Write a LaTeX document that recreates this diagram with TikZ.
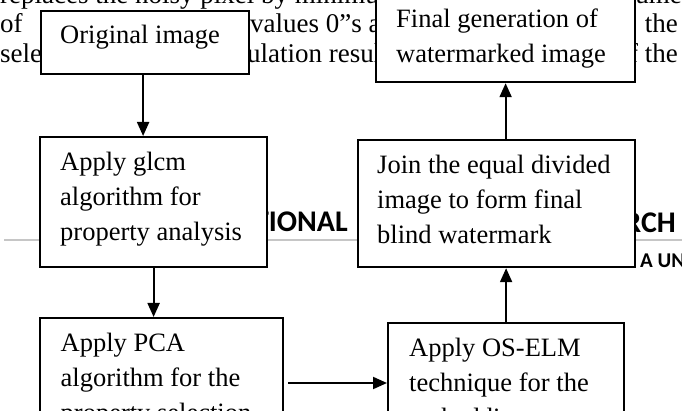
\documentclass[tikz,border=0pt]{standalone}
\usepackage{fontspec}
\setmainfont{Liberation Serif}
\newfontfamily\carlito{Carlito}
\usetikzlibrary{arrows.meta,calc}
\begin{document}
\begin{tikzpicture}[x=1pt,y=-1pt,
  box/.style={draw=black, fill=white, line width=2.2pt, inner sep=0pt, anchor=north west},
  txt/.style={inner sep=0pt, align=left, anchor=north west, font=\fontsize{26.5}{35}\selectfont},
  bgtxt/.style={inner sep=0pt, font=\fontsize{27}{32}\selectfont},
  head/.style={inner sep=0pt, font=\carlito\bfseries\fontsize{30}{34}\selectfont},
  sub/.style={inner sep=0pt, font=\carlito\bfseries\fontsize{21}{25}\selectfont},
  arr/.style={line width=2pt, -{Triangle[length=14pt,width=12pt]}}]
\useasboundingbox (0,0) rectangle (682,411);
\clip (0,0) rectangle (682,411);
\fill[white] (0,0) rectangle (682,411);
% background page text
\node[bgtxt, anchor=base west] (l1a) at (0,4) {replaces the noisy pixel by minimum};
\node[bgtxt, anchor=base east] (l1b) at (682,4) {ume};
\node[bgtxt, anchor=base west] (l2a) at (0,32.5) {of};
\node[bgtxt, anchor=base west] (l2b) at (250,32.5) {values 0”s and};
\node[bgtxt, anchor=base east] (l2c) at (678,32.5) {the};
\node[bgtxt, anchor=base west] (l3a) at (0,63) {selection};
\node[bgtxt, anchor=base west] (l3b) at (247,63) {ulation result};
\node[bgtxt, anchor=base east] (l3c) at (678,63) {of the};
\node[head, anchor=base east] (h1) at (348,232) {INTERNATIONAL};
\node[head, anchor=base east] (h2) at (676,233) {RESEARCH};
\node[sub, anchor=base west] (h3) at (640,268) {A UNIVERSITY};
\draw[gray!45, line width=1.5pt] (4,240) -- (682,240);
% boxes
\node[box, minimum width=208, minimum height=63] (b1) at (40,10) {};
\node[box, minimum width=259, minimum height=88] (b6) at (375,-7) {};
\node[box, minimum width=227, minimum height=130] (b2) at (39,136) {};
\node[box, minimum width=277, minimum height=127] (b5) at (357,139) {};
\node[box, minimum width=243, minimum height=150] (b3) at (39,317) {};
\node[box, minimum width=236, minimum height=150] (b4) at (387,322) {};
% texts
\node[txt] (t1) at ($(b1.north west)+(20,9)$) {\rule{0pt}{24pt}Original image};
\node[txt] (t6) at ($(b6.north west)+(21,10)$) {\rule{0pt}{24pt}Final generation of\\watermarked image};
\node[txt] (t2) at ($(b2.north west)+(21,10)$) {\rule{0pt}{24pt}Apply glcm\\algorithm for\\property analysis};
\node[txt] (t5) at ($(b5.north west)+(20,10)$) {\rule{0pt}{24pt}Join the equal divided\\image to form final\\blind watermark};
\node[txt] (t3) at ($(b3.north west)+(21.5,10)$) {\rule{0pt}{24pt}Apply PCA\\algorithm for the\\property selection};
\node[txt] (t4) at ($(b4.north west)+(22,10)$) {\rule{0pt}{24pt}Apply OS-ELM\\technique for the\\embedding};
% connectors
\coordinate (hy) at (0,383);
\draw[arr] ($(b1.south)+(-2,0)$) -- ($(b1.south |- b2.north)+(-2,0)$);
\draw[arr] (b2.south) -- (b2.south |- b3.north);
\draw[arr] ($(b3.east |- hy)+(4,0)$) -- (b4.west |- hy);
\draw[arr] (b4.north) -- (b4.north |- b5.south);
\draw[arr] (b6.south |- b5.north) -- (b6.south);
\end{tikzpicture}
\end{document}
